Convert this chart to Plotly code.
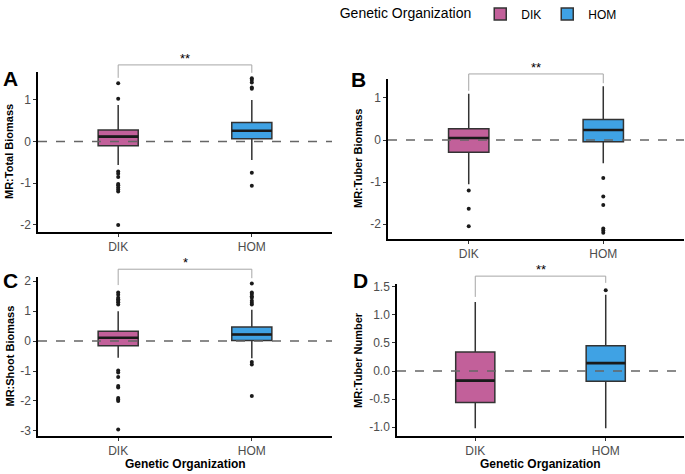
import plotly.graph_objects as go

W, H = 685, 474
FONT = "Liberation Sans, Arial, sans-serif"

categories = ["DIK", "HOM"]
group_colors = ["#c2609a", "#3fa2e4"]

# ---- Panel A: Total Biomass
A_q1 = [-0.10, 0.07]
A_med = [0.12, 0.26]
A_q3 = [0.28, 0.46]
A_lo = [-0.56, -0.44]
A_hi = [0.88, 1.00]
A_out = [[1.40, 1.03, -0.72, -0.77, -0.85, -1.02, -1.05, -1.10, -1.15, -1.20, -2.00],
         [1.27, 1.30, 1.42, 1.48, 1.52, -0.75, -1.06]]

# ---- Panel B: Tuber Biomass
B_q1 = [-0.29, -0.04]
B_med = [0.05, 0.24]
B_q3 = [0.27, 0.49]
B_lo = [-1.05, -0.55]
B_hi = [1.10, 1.28]
B_out = [[-1.20, -1.63, -2.05],
         [-0.90, -1.34, -1.54, -2.10, -2.15, -2.20]]

# ---- Panel C: Shoot Biomass
C_q1 = [-0.16, 0.02]
C_med = [0.11, 0.22]
C_q3 = [0.33, 0.47]
C_lo = [-0.56, -0.57]
C_hi = [1.00, 1.05]
C_out = [[1.22, 1.30, 1.35, 1.40, 1.45, 1.55, 1.62, -0.98, -1.05, -1.20, -1.50, -1.55, -1.90, -1.95, -2.00, -2.95],
         [1.22, 1.28, 1.35, 1.45, 1.50, 1.57, 1.62, 1.92, -0.70, -0.78, -1.83]]

# ---- Panel D: Tuber Number
D_q1 = [-0.56, -0.18]
D_med = [-0.17, 0.14]
D_q3 = [0.34, 0.45]
D_lo = [-1.02, -1.02]
D_hi = [1.23, 1.36]
D_out = [[], [1.44]]

y_titles = ["MR:Total Biomass", "MR:Tuber Biomass", "MR:Shoot Biomass", "MR:Tuber Number"]
panel_letters = ["A", "B", "C", "D"]
signif = ["**", "**", "*", "**"]
x_title = "Genetic Organization"
legend_title = "Genetic Organization"

# bracket heights (data units): top, left leg end, right leg end
brackets = [(1.84, 1.53, 1.65), (1.57, 1.17, 1.35), (2.40, 1.87, 2.10), (1.69, 1.32, 1.57)]

# layout of panels in pixels
panels = [
    dict(px=(38, 332), py=(72, 232), yr=(-2.17, 1.67), tv=[-2, -1, 0, 1], tt=["-2", "-1", "0", "1"],
         title_x=9, letter=(10, 79)),
    dict(px=(388, 684), py=(79, 239), yr=(-2.35, 1.45), tv=[-2, -1, 0, 1], tt=["-2", "-1", "0", "1"],
         title_x=358, letter=(358, 80)),
    dict(px=(38, 332), py=(277, 436), yr=(-3.17, 2.14), tv=[-3, -2, -1, 0, 1, 2], tt=["-3", "-2", "-1", "0", "1", "2"],
         title_x=9, letter=(10, 280)),
    dict(px=(397, 684), py=(284, 436), yr=(-1.157, 1.55), tv=[-1, -0.5, 0, 0.5, 1, 1.5],
         tt=["-1.0", "-0.5", "0.0", "0.5", "1.0", "1.5"], title_x=358, letter=(361, 280)),
]
stats = [
    (A_q1, A_med, A_q3, A_lo, A_hi, A_out),
    (B_q1, B_med, B_q3, B_lo, B_hi, B_out),
    (C_q1, C_med, C_q3, C_lo, C_hi, C_out),
    (D_q1, D_med, D_q3, D_lo, D_hi, D_out),
]

BOXW = 0.3
fig = go.Figure()
shapes = []
annotations = []

def px2x(p):
    return p / W

def px2y(p):
    return 1 - p / H

for k, (pan, st) in enumerate(zip(panels, stats)):
    xa = "x" if k == 0 else f"x{k+1}"
    ya = "y" if k == 0 else f"y{k+1}"
    q1, med, q3, lo, hi, out = st
    for i, cat in enumerate(categories):
        fig.add_trace(go.Box(
            x=[i], q1=[q1[i]], median=[med[i]], q3=[q3[i]],
            lowerfence=[lo[i]], upperfence=[hi[i]],
            name=cat, legendgroup=cat, showlegend=(k == 0),
            fillcolor=group_colors[i], line=dict(color="#333333", width=1.5),
            width=BOXW, whiskerwidth=0, boxpoints=False,
            xaxis=xa, yaxis=ya, hoverinfo="skip",
        ))
        # thick median line
        fig.add_trace(go.Scatter(
            x=[i - BOXW / 2, i + BOXW / 2], y=[med[i], med[i]], mode="lines",
            line=dict(color="#1a1a1a", width=2.6), showlegend=False,
            xaxis=xa, yaxis=ya, hoverinfo="skip",
        ))
        if out[i]:
            fig.add_trace(go.Scatter(
                x=[i] * len(out[i]), y=out[i], mode="markers",
                marker=dict(color="#1a1a1a", size=4), showlegend=False,
                xaxis=xa, yaxis=ya, hoverinfo="skip",
            ))
    dom_x = [px2x(pan["px"][0]), px2x(pan["px"][1])]
    dom_y = [px2y(pan["py"][1]), px2y(pan["py"][0])]
    axname = "" if k == 0 else str(k + 1)
    fig.layout["xaxis" + axname] = dict(
        domain=dom_x, range=[-0.6, 1.6], tickvals=[0, 1], ticktext=categories,
        showline=True, linecolor="black", linewidth=1.5, ticks="outside", ticklen=3,
        tickcolor="#333333", tickfont=dict(family=FONT, size=12, color="#4d4d4d"),
        showgrid=False, zeroline=False, anchor=ya, fixedrange=True, automargin=False,
    )
    fig.layout["yaxis" + axname] = dict(
        domain=dom_y, range=list(pan["yr"]), tickvals=pan["tv"], ticktext=pan["tt"],
        showline=True, linecolor="black", linewidth=1.5, ticks="outside", ticklen=3,
        tickcolor="#333333", tickfont=dict(family=FONT, size=12, color="#4d4d4d"),
        showgrid=False, zeroline=False, anchor=xa, fixedrange=True, automargin=False,
    )
    # dashed zero reference line
    shapes.append(dict(type="line", xref=xa + " domain", x0=0, x1=1, yref=ya, y0=0, y1=0,
                       line=dict(color="#666666", width=1.5, dash="dash"), layer="above"))
    # significance bracket (paper coords, converted from data values)
    y0r, y1r = pan["yr"]
    def d2p(v, y0r=y0r, y1r=y1r, dom_y=dom_y):
        return dom_y[0] + (v - y0r) / (y1r - y0r) * (dom_y[1] - dom_y[0])
    def x2p(v, dom_x=dom_x):
        return dom_x[0] + (v + 0.6) / 2.2 * (dom_x[1] - dom_x[0])
    top, lleg, rleg = brackets[k]
    bl = dict(color="#a6a6a6", width=1)
    shapes.append(dict(type="line", xref="paper", yref="paper", x0=x2p(0), x1=x2p(1),
                       y0=d2p(top), y1=d2p(top), line=bl))
    shapes.append(dict(type="line", xref="paper", yref="paper", x0=x2p(0), x1=x2p(0),
                       y0=d2p(top), y1=d2p(lleg), line=bl))
    shapes.append(dict(type="line", xref="paper", yref="paper", x0=x2p(1), x1=x2p(1),
                       y0=d2p(top), y1=d2p(rleg), line=bl))
    annotations.append(dict(text=signif[k], xref="paper", yref="paper", x=x2p(0.5), y=d2p(top),
                            yanchor="bottom", xanchor="center", showarrow=False, yshift=-3,
                            font=dict(family=FONT, size=13, color="black")))
    # y axis title
    annotations.append(dict(text=y_titles[k], xref="paper", yref="paper",
                            x=px2x(pan["title_x"]), y=(dom_y[0] + dom_y[1]) / 2,
                            textangle=-90, showarrow=False, xanchor="center", yanchor="middle",
                            font=dict(family=FONT, size=11, color="black", weight="bold")))
    # panel letter
    annotations.append(dict(text=panel_letters[k], xref="paper", yref="paper",
                            x=px2x(pan["letter"][0]), y=px2y(pan["letter"][1]),
                            xanchor="center", yanchor="middle", showarrow=False,
                            font=dict(family=FONT, size=21, color="black", weight="bold")))
    if k >= 2:
        annotations.append(dict(text=x_title, xref="paper", yref="paper",
                                x=(dom_x[0] + dom_x[1]) / 2, y=dom_y[0], yshift=-28,
                                xanchor="center", yanchor="middle", showarrow=False,
                                font=dict(family=FONT, size=12, color="black", weight="bold")))

fig.update_layout(
    width=W, height=H, margin=dict(l=0, r=0, t=0, b=0, autoexpand=False),
    paper_bgcolor="white", plot_bgcolor="white",
    shapes=shapes, annotations=annotations,
    font=dict(family=FONT),
    legend=dict(orientation="h", x=0.493, xanchor="left", y=1 - 14 / H, yanchor="middle",
                title=dict(text=legend_title, font=dict(family=FONT, size=14, color="black")),
                font=dict(family=FONT, size=12, color="black"), itemwidth=32,
                bgcolor="rgba(0,0,0,0)"),
)

fig.write_html("out.html", config={"displayModeBar": False},
               post_script="document.body.style.margin='0px';")
